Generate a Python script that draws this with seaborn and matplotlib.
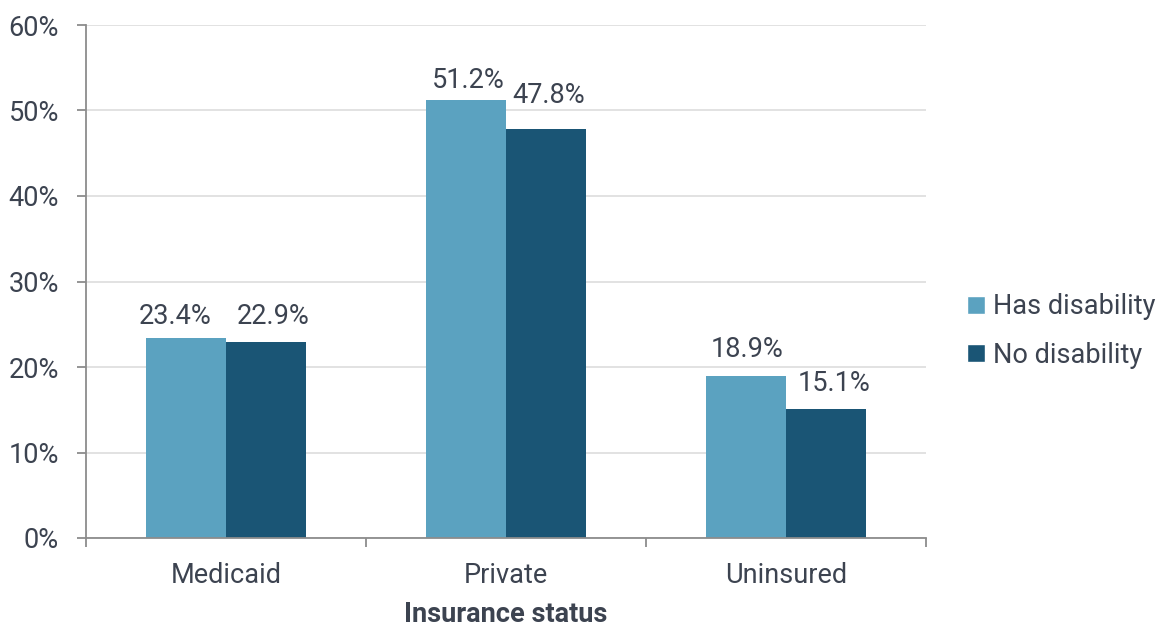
import matplotlib
matplotlib.use("Agg")
import matplotlib.pyplot as plt
import seaborn as sns
import pandas as pd
from matplotlib.ticker import FuncFormatter, MultipleLocator
from matplotlib.patches import Patch

categories = ["Medicaid", "Private", "Uninsured"]
series_names = ["Has disability", "No disability"]
has_disability = [23.4, 51.2, 18.9]
no_disability = [22.9, 47.8, 15.1]
colors = ["#5BA2C0", "#1A5575"]

df = pd.DataFrame({
    "category": categories * 2,
    "series": [series_names[0]] * 3 + [series_names[1]] * 3,
    "value": has_disability + no_disability,
})

sns.set_style("white")
plt.rcParams["font.family"] = ["Roboto", "DejaVu Sans"]
text_color = "#3C4350"
fs = 19.5

fig = plt.figure(figsize=(11.59, 6.28), dpi=100)
ax = fig.add_axes([86 / 1159, 1 - 538 / 628, 840 / 1159, 513 / 628])

sns.barplot(data=df, x="category", y="value", hue="series", palette=colors,
            width=160 / 280, saturation=1, ax=ax, legend=False,
            edgecolor="none", linewidth=0)

# label offsets (points) for collision avoidance: [category][series] -> (dx, dy)
nudges = [[(-8.0, 6.0), (5.0, 8.9)],
          [(1.8, 4.6), (2.2, 14.6)],
          [(0.7, 9.6), (5.8, 8.9)]]
for si, cont in enumerate(ax.containers):
    for ci, (bar, v) in enumerate(zip(cont.patches, cont.datavalues)):
        ax.annotate(f"{v:.1f}%", (bar.get_x() + bar.get_width() / 2, v),
                    xytext=nudges[ci][si], textcoords="offset points",
                    ha="center", va="bottom", fontsize=fs, color=text_color)

ax.set_ylim(0, 60)
ax.set_xlim(-0.5, 2.5)
ax.yaxis.set_major_locator(MultipleLocator(10))
ax.yaxis.set_major_formatter(FuncFormatter(lambda v, p: f"{v:.0f}%"))
ax.grid(axis="y", color="#DDDDDD", linewidth=1.2)
ax.set_axisbelow(True)

for s in ["top", "right"]:
    ax.spines[s].set_visible(False)
for s in ["left", "bottom"]:
    ax.spines[s].set_color("#8C8C8C")
    ax.spines[s].set_linewidth(1.3)

ax.tick_params(axis="y", length=6.5, width=1.3, color="#8C8C8C", labelsize=fs,
               labelcolor=text_color, pad=13, left=True)
ax.set_xticks([0, 1, 2])
ax.set_xticklabels(categories)
ax.set_xticks([-0.5, 0.5, 1.5, 2.5], minor=True)
ax.tick_params(axis="x", which="major", length=0, labelsize=fs,
               labelcolor=text_color, pad=17)
ax.tick_params(axis="x", which="minor", length=6.5, width=1.3, color="#8C8C8C",
               bottom=True)
ax.set_xlabel("Insurance status", fontsize=fs, fontweight="bold",
              color=text_color, labelpad=9)
ax.set_ylabel("")

handles = [Patch(facecolor=c, label=n) for c, n in zip(colors, series_names)]
fig.legend(handles=handles, loc="center left", bbox_to_anchor=(967 / 1159, 1 - 331 / 628),
           frameon=False, fontsize=fs, labelcolor=text_color, handlelength=0.65,
           handleheight=0.65, handletextpad=0.3, labelspacing=0.8,
           borderaxespad=0, borderpad=0)

fig.savefig("out.png", dpi=100)
